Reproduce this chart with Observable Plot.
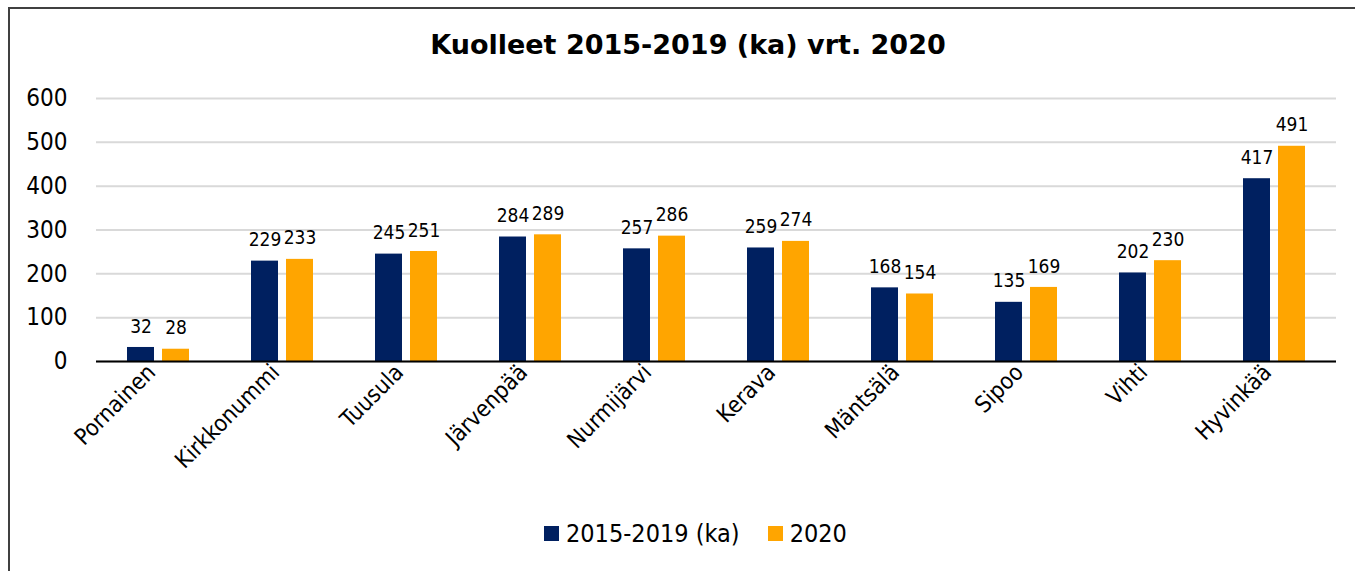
<!DOCTYPE html>
<html>
<head>
<meta charset="utf-8">
<script src="https://cdn.jsdelivr.net/npm/d3@7"></script>
<script src="https://cdn.jsdelivr.net/npm/@observablehq/plot@0.6"></script>
<style>
  html, body { margin: 0; padding: 0; background: #fff; overflow: hidden; width: 1355px; height: 571px; }
  #frame { position: absolute; left: 8px; top: 7px; width: 1370px; height: 600px; border: 2px solid #404040; box-sizing: border-box; }
  #title { position: absolute; left: 0; width: 1376px; top: 29px; text-align: center; font: bold 27px "DejaVu Sans", sans-serif; color: #000; }
  #chart { position: absolute; left: 0; top: 80px; }
  #legend { position: absolute; left: 544px; top: 519px; display: flex; align-items: center; font: 25px "DejaVu Sans Condensed", "DejaVu Sans", sans-serif; color: #000; }
  .sw { display: inline-block; width: 15px; height: 15px; margin-right: 7px; }
</style>
</head>
<body>
<div id="frame"></div>
<div id="title">Kuolleet 2015-2019 (ka) vrt. 2020</div>
<div id="chart"></div>
<div id="legend"></div>
<script>
const municipalities = ["Pornainen", "Kirkkonummi", "Tuusula", "Järvenpää", "Nurmijärvi", "Kerava", "Mäntsälä", "Sipoo", "Vihti", "Hyvinkää"];
const seriesNames = ["2015-2019 (ka)", "2020"];
const avg2015_2019 = [32, 229, 245, 284, 257, 259, 168, 135, 202, 417];
const values2020 = [28, 233, 251, 289, 286, 274, 154, 169, 230, 491];
const seriesColors = ["#002060", "#FFA500"];
const yTicks = [0, 100, 200, 300, 400, 500, 600];

const data = [];
municipalities.forEach((m, i) => {
  data.push({kunta: m, series: seriesNames[0], value: avg2015_2019[i]});
  data.push({kunta: m, series: seriesNames[1], value: values2020[i]});
});

const font = '"DejaVu Sans Condensed", "DejaVu Sans", sans-serif';

const chart = Plot.plot({
  width: 1355,
  height: 420,
  marginLeft: 92,
  marginRight: 15,
  marginTop: 18,
  marginBottom: 139,
  style: {fontFamily: font, color: "#000", background: "transparent", overflow: "visible"},
  fx: {domain: municipalities, padding: 0, label: null},
  x: {domain: seriesNames, axis: null, paddingInner: 0.222, paddingOuter: 0.844},
  y: {domain: [0, 600], label: null},
  color: {domain: seriesNames, range: seriesColors},
  marks: [
    Plot.ruleY(yTicks, {stroke: "#d9d9d9", strokeWidth: 2}),
    Plot.barY(data, {fx: "kunta", x: "series", y: "value", fill: "series"}),
    Plot.ruleY([0], {stroke: "#000", strokeWidth: 2}),
    Plot.text(data, {fx: "kunta", x: "series", y: "value", text: d => String(d.value), dy: -21, fontSize: 19, fill: "#000"}),
    Plot.axisY({ticks: yTicks, tickSize: 0, tickPadding: 29, fontSize: 24, label: null}),
    Plot.axisFx({anchor: "bottom", tickRotate: -45, tickSize: 0, tickPadding: 7, dx: -7, fontSize: 23, label: null})
  ]
});
document.getElementById("chart").appendChild(chart);

const legend = document.getElementById("legend");
seriesNames.forEach((s, i) => {
  const item = document.createElement("span");
  item.style.display = "flex";
  item.style.alignItems = "center";
  item.style.marginRight = i === 0 ? "28px" : "0";
  const sw = document.createElement("span");
  sw.className = "sw";
  sw.style.background = seriesColors[i];
  item.appendChild(sw);
  item.appendChild(document.createTextNode(s));
  legend.appendChild(item);
});
</script>
</body>
</html>
